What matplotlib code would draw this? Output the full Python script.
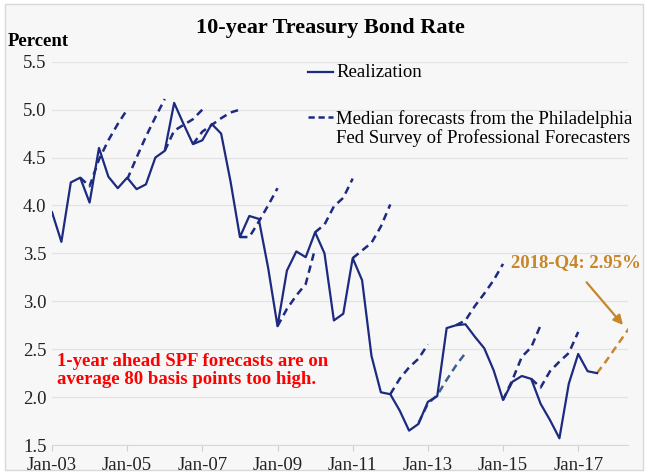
import matplotlib
matplotlib.use("Agg")
import matplotlib.pyplot as plt
from matplotlib.patches import Rectangle

# 10-year Treasury rate, quarterly from 2003-Q1 (index 0)
realization = [3.93, 3.62, 4.24, 4.29, 4.03, 4.60, 4.30, 4.18, 4.29, 4.17,
               4.22, 4.50, 4.57, 5.07, 4.85, 4.64, 4.68, 4.85, 4.75, 4.25,
               3.67, 3.89, 3.86, 3.35, 2.74, 3.32, 3.52, 3.46, 3.72, 3.50,
               2.80, 2.87, 3.45, 3.22, 2.43, 2.05, 2.03, 1.86, 1.65, 1.72,
               1.95, 2.01, 2.72, 2.75, 2.76, 2.63, 2.51, 2.28, 1.97, 2.16,
               2.22, 2.19, 1.93, 1.76, 1.57, 2.14, 2.45, 2.27, 2.25]

# SPF median forecast paths: (start quarter, values)
forecast_starts = [3, 8, 12, 15, 20, 24, 28, 32, 36, 39, 43, 48, 51]
forecast_values = [
    [4.29, 4.20, 4.48, 4.68, 4.85, 5.00],
    [4.27, 4.50, 4.72, 4.92, 5.11],
    [4.57, 4.78, 4.84, 4.90, 5.00],
    [4.64, 4.77, 4.84, 4.91, 4.97, 5.00],
    [3.67, 3.67, 3.83, 4.00, 4.18],
    [2.74, 2.92, 3.06, 3.18, 3.55],
    [3.72, 3.80, 3.99, 4.08, 4.28],
    [3.45, 3.53, 3.61, 3.78, 4.01],
    [2.03, 2.19, 2.31, 2.40, 2.55],
    [1.73, 1.93, 2.02, 2.18, 2.33, 2.46],
    [2.75, 2.80, 2.95, 3.08, 3.22, 3.39],
    [1.97, 2.18, 2.42, 2.52, 2.75],
    [2.19, 2.10, 2.27, 2.37, 2.46, 2.68],
]
latest_start = 58
latest_values = [2.25, 2.38, 2.52, 2.66, 2.80]

tick_pos = [0, 8, 16, 24, 32, 40, 48, 56]
tick_labels = ["Jan-03", "Jan-05", "Jan-07", "Jan-09", "Jan-11", "Jan-13", "Jan-15", "Jan-17"]

navy = "#1c2a80"
steel = "#3d5f8f"
orange = "#c8862a"
bg = "#f7f7f7"

plt.rcParams["font.family"] = ["Liberation Serif", "DejaVu Serif"]

fig = plt.figure(figsize=(6.48, 4.75), dpi=100)
fig.patch.set_facecolor("white")
fig.patches.append(Rectangle((5 / 648, 5 / 475), 638 / 648, 466 / 475, transform=fig.transFigure,
                             facecolor=bg, edgecolor="#d8d8d8", lw=1, zorder=-10))
ax = fig.add_axes([52 / 648, 30 / 475, 576 / 648, 383.3 / 475])
ax.set_facecolor(bg)

ax.plot(range(len(realization)), realization, color=navy, lw=1.6, zorder=3)
for s, vals in zip(forecast_starts, forecast_values):
    c = steel if s == 39 else navy
    ax.plot(range(s, s + len(vals)), vals, color=c, lw=1.8, ls=(0, (3, 2)), zorder=2)
ax.plot(range(latest_start, latest_start + len(latest_values)), latest_values,
        color=orange, lw=1.8, ls=(0, (3, 2)), zorder=2)

ax.set_xlim(0, 61.3)
ax.set_ylim(1.5, 5.5)
ax.set_yticks([1.5, 2.0, 2.5, 3.0, 3.5, 4.0, 4.5, 5.0, 5.5])
ax.set_yticklabels(["1.5", "2.0", "2.5", "3.0", "3.5", "4.0", "4.5", "5.0", "5.5"])
ax.set_xticks(tick_pos)
ax.set_xticklabels(tick_labels)
ax.tick_params(axis="y", length=0, pad=4, labelsize=13.5, labelcolor="#222222")
ax.tick_params(axis="x", length=4, color="#d0d0d0", pad=5, labelsize=13.5, labelcolor="#222222")
ax.grid(axis="y", color="#e3e3e3", lw=0.9)
ax.set_axisbelow(True)
for side in ["top", "right", "left"]:
    ax.spines[side].set_visible(False)
ax.spines["bottom"].set_color("#d8d8d8")

fig.text(0.51, 1 - 28 / 475, "10-year Treasury Bond Rate", ha="center", va="center",
         fontsize=16, fontweight="bold")
fig.text(8 / 648, 1 - 41 / 475, "Percent", ha="left", va="center", fontsize=13.5, fontweight="bold")

# legend drawn by hand
ax.plot([0.444, 0.488], [0.973, 0.973], transform=ax.transAxes, color=navy, lw=1.6)
ax.text(0.493, 0.973, "Realization", transform=ax.transAxes, va="center", fontsize=13.5)
ax.plot([0.444, 0.488], [0.856, 0.856], transform=ax.transAxes, color=navy, lw=1.8, ls=(0, (2.5, 1.5)))
ax.text(0.493, 0.826, "Median forecasts from the Philadelphia\nFed Survey of Professional Forecasters",
        transform=ax.transAxes, va="center", fontsize=13.5, linespacing=1.05)

ax.text(0.55, 2.28, "1-year ahead SPF forecasts are on\naverage 80 basis points too high.",
        color="red", fontsize=13.5, fontweight="bold", va="center", linespacing=1.05)

ax.text(48.8, 3.40, "2018-Q4: 2.95%", color=orange, fontsize=13.5, fontweight="bold", va="center")
ax.annotate("", xy=(60.96, 2.73), xytext=(56.7, 3.22),
            arrowprops=dict(arrowstyle="-|>", color=orange, lw=1.6, mutation_scale=14))

fig.savefig("out.png", dpi=100, facecolor=fig.get_facecolor())
